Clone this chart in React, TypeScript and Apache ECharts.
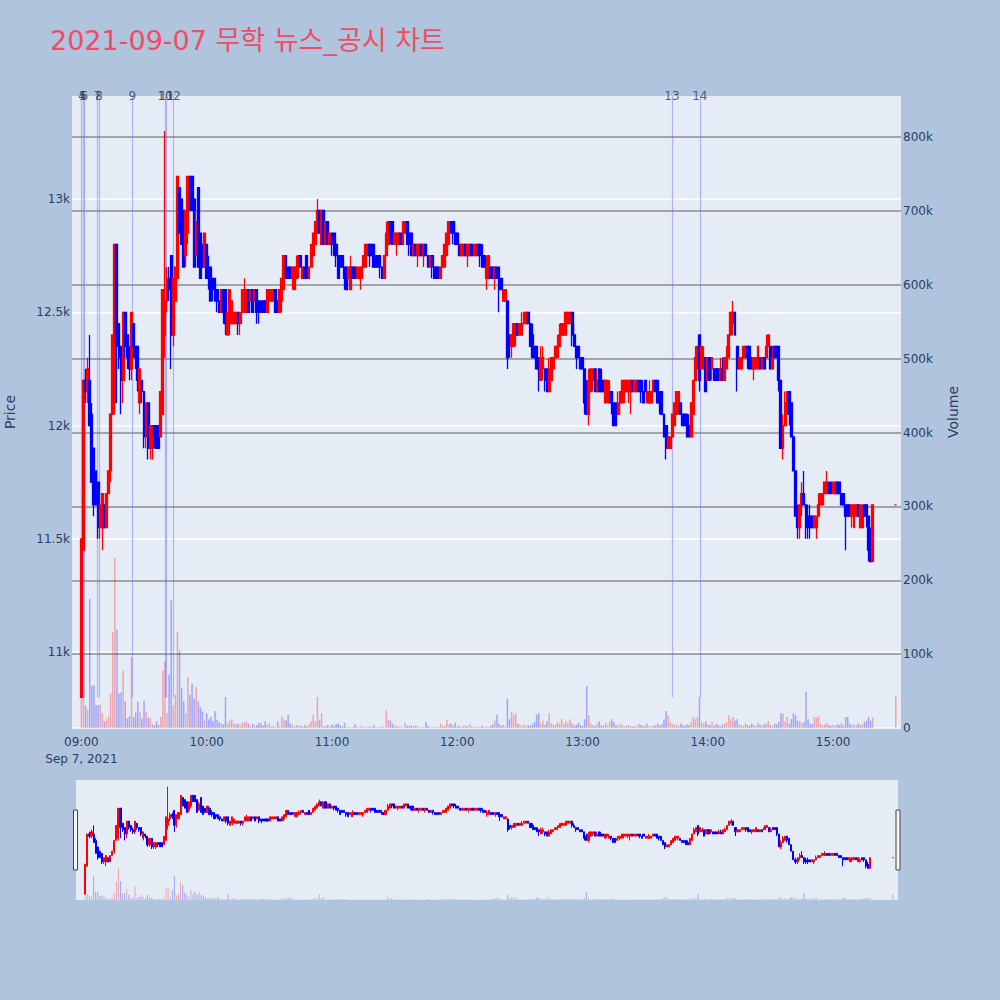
import React, { useEffect, useRef } from 'react';
import * as echarts from 'echarts';

const TITLE = '2021-09-07 무학 뉴스_공시 차트';
const DATE_LABEL = 'Sep 7, 2021';
const FIRST_MINUTE = '09:00';
const AXIS_START_MIN = 8 * 60 + 56; // first category 08:56
const AXIS_END_MIN = 15 * 60 + 32; // last category 15:32
const PRICE_MIN = 10665;
const PRICE_MAX = 13455;
const VOL_MAX = 855.5; // thousands
const NEWS_LOW = 10800;

// [open, close, low, high] per minute
const h09 = [
  [10800, 11500, 10800, 11500], [11450, 12200, 11450, 12200], [12200, 12150, 12100, 12250], [12150, 12250, 12100, 12300], [12200, 12000, 12000, 12400],
  [12050, 11750, 11750, 12100], [11900, 11650, 11600, 11900], [11800, 11650, 11650, 11800], [11750, 11550, 11500, 11750], [11550, 11650, 11500, 11650],
  [11550, 11700, 11450, 11700], [11650, 11550, 11550, 11650], [11550, 11700, 11550, 11700], [11700, 11800, 11700, 11800], [11800, 12050, 11750, 12050],
  [12050, 12400, 12050, 12400], [12100, 12800, 12050, 12800], [12800, 12350, 12100, 12800], [12450, 12300, 12250, 12450], [12350, 12200, 12050, 12350],
  [12200, 12500, 12100, 12500], [12500, 12350, 12300, 12500], [12400, 12300, 12250, 12400], [12300, 12250, 12200, 12350], [12250, 12500, 12200, 12500],
  [12450, 12350, 12300, 12450], [12350, 12300, 12250, 12350], [12350, 12200, 12150, 12350], [12100, 12250, 12050, 12250], [12200, 12150, 12100, 12200],
  [12150, 11950, 11900, 12150], [11950, 12100, 11900, 12100], [12100, 11900, 11850, 12100], [11900, 12000, 11850, 12000], [11900, 12000, 11850, 12000],
  [12000, 11950, 11900, 12000], [12000, 11900, 11900, 12000], [12000, 11900, 11900, 12000], [11950, 12150, 11950, 12150], [12050, 12600, 12050, 12600],
  [12400, 12550, 12300, 13300], [12550, 12650, 12500, 12700], [12650, 12600, 12550, 12700], [12750, 12400, 12250, 12750], [12400, 12650, 12350, 12650],
  [12550, 12700, 12550, 12700], [12650, 13100, 12650, 13100], [13050, 12850, 12850, 13050], [13000, 12800, 12800, 13000], [12950, 12700, 12700, 12950],
  [12750, 12950, 12700, 12950], [12850, 13100, 12800, 13100], [13100, 12950, 12950, 13100], [13100, 12950, 12950, 13100], [13000, 12700, 12700, 13000],
  [12750, 12900, 12750, 12950], [13050, 12700, 12700, 13050], [12850, 12650, 12650, 12850], [12800, 12700, 12700, 12800], [12700, 12850, 12700, 12850],
];
const h10 = [
  [12800, 12650, 12650, 12800], [12700, 12650, 12600, 12750], [12700, 12550, 12550, 12700], [12650, 12600, 12550, 12650], [12650, 12550, 12550, 12650],
  [12600, 12550, 12500, 12600], [12550, 12500, 12500, 12550], [12500, 12600, 12500, 12600], [12600, 12500, 12450, 12600], [12600, 12450, 12400, 12600],
  [12400, 12500, 12400, 12500], [12450, 12600, 12400, 12600], [12450, 12550, 12450, 12550], [12450, 12500, 12450, 12500], [12450, 12500, 12450, 12500],
  [12500, 12450, 12400, 12500], [12450, 12500, 12400, 12500], [12500, 12600, 12500, 12600], [12500, 12600, 12500, 12650], [12500, 12600, 12500, 12600],
  [12600, 12500, 12500, 12600], [12550, 12600, 12550, 12600], [12600, 12500, 12500, 12600], [12550, 12600, 12550, 12600], [12600, 12500, 12450, 12600],
  [12550, 12500, 12450, 12550], [12550, 12500, 12500, 12550], [12550, 12500, 12500, 12550], [12550, 12500, 12500, 12550], [12500, 12600, 12500, 12600],
  [12550, 12600, 12550, 12600], [12550, 12600, 12550, 12600], [12550, 12600, 12550, 12600], [12600, 12500, 12500, 12600], [12550, 12500, 12500, 12550],
  [12500, 12600, 12500, 12600], [12550, 12650, 12500, 12650], [12600, 12750, 12600, 12750], [12750, 12650, 12650, 12750], [12700, 12650, 12650, 12700],
  [12700, 12650, 12650, 12700], [12650, 12700, 12600, 12700], [12600, 12700, 12600, 12700], [12650, 12700, 12650, 12750], [12700, 12750, 12650, 12750],
  [12750, 12700, 12700, 12750], [12650, 12700, 12650, 12700], [12700, 12650, 12650, 12700], [12750, 12650, 12650, 12750], [12650, 12700, 12650, 12700],
  [12700, 12800, 12700, 12800], [12750, 12850, 12750, 12850], [12800, 12900, 12800, 12900], [12850, 12950, 12850, 13000], [12950, 12850, 12850, 12950],
  [12800, 12950, 12800, 12950], [12950, 12800, 12800, 12950], [12800, 12900, 12800, 12900], [12900, 12800, 12800, 12900], [12800, 12850, 12800, 12850],
];
const h11 = [
  [12850, 12800, 12750, 12850], [12850, 12750, 12750, 12850], [12800, 12750, 12700, 12800], [12750, 12650, 12650, 12750], [12750, 12700, 12700, 12750],
  [12750, 12700, 12700, 12750], [12700, 12650, 12600, 12700], [12700, 12600, 12600, 12700], [12650, 12700, 12650, 12700], [12600, 12700, 12600, 12750],
  [12700, 12650, 12650, 12700], [12700, 12650, 12650, 12700], [12650, 12700, 12650, 12700], [12650, 12700, 12650, 12700], [12650, 12700, 12600, 12700],
  [12700, 12750, 12700, 12750], [12700, 12800, 12700, 12800], [12750, 12800, 12750, 12800], [12800, 12750, 12700, 12800], [12800, 12750, 12750, 12800],
  [12800, 12700, 12700, 12800], [12750, 12700, 12700, 12750], [12750, 12700, 12700, 12750], [12750, 12700, 12650, 12750], [12700, 12650, 12650, 12700],
  [12650, 12750, 12650, 12750], [12750, 12850, 12750, 12900], [12800, 12900, 12800, 12900], [12900, 12850, 12800, 12900], [12900, 12800, 12800, 12900],
  [12800, 12850, 12800, 12850], [12800, 12850, 12750, 12850], [12800, 12850, 12800, 12850], [12850, 12800, 12800, 12850], [12800, 12900, 12800, 12900],
  [12850, 12900, 12850, 12900], [12900, 12800, 12800, 12900], [12850, 12800, 12750, 12850], [12850, 12750, 12750, 12850], [12750, 12800, 12750, 12800],
  [12800, 12750, 12750, 12800], [12750, 12800, 12700, 12800], [12750, 12800, 12750, 12800], [12800, 12750, 12750, 12800], [12750, 12800, 12700, 12800],
  [12800, 12750, 12750, 12800], [12750, 12700, 12700, 12750], [12700, 12750, 12700, 12750], [12750, 12700, 12650, 12750], [12700, 12650, 12650, 12700],
  [12700, 12650, 12650, 12700], [12700, 12650, 12650, 12700], [12650, 12700, 12650, 12700], [12700, 12750, 12700, 12750], [12700, 12800, 12700, 12800],
  [12750, 12850, 12750, 12850], [12800, 12900, 12800, 12900], [12900, 12850, 12850, 12900], [12900, 12850, 12800, 12900], [12850, 12800, 12800, 12900],
];
const h12 = [
  [12850, 12800, 12800, 12850], [12800, 12750, 12750, 12800], [12750, 12800, 12750, 12800], [12750, 12800, 12750, 12800], [12800, 12750, 12750, 12800],
  [12750, 12800, 12700, 12800], [12750, 12800, 12750, 12800], [12800, 12750, 12750, 12800], [12750, 12800, 12750, 12800], [12750, 12800, 12750, 12800],
  [12800, 12750, 12750, 12800], [12800, 12750, 12700, 12800], [12750, 12700, 12700, 12800], [12750, 12700, 12700, 12750], [12650, 12700, 12600, 12750],
  [12650, 12750, 12650, 12750], [12700, 12650, 12650, 12700], [12700, 12650, 12650, 12700], [12650, 12700, 12600, 12700], [12700, 12650, 12650, 12700],
  [12700, 12600, 12500, 12700], [12650, 12600, 12600, 12650], [12550, 12600, 12550, 12600], [12550, 12600, 12550, 12600], [12550, 12300, 12250, 12550],
  [12400, 12350, 12300, 12400], [12350, 12400, 12300, 12400], [12350, 12450, 12350, 12450], [12400, 12450, 12350, 12450], [12450, 12400, 12400, 12450],
  [12400, 12450, 12400, 12450], [12400, 12450, 12400, 12500], [12450, 12500, 12450, 12500], [12450, 12500, 12450, 12500], [12500, 12450, 12450, 12500],
  [12450, 12350, 12350, 12450], [12400, 12300, 12300, 12450], [12350, 12300, 12300, 12350], [12350, 12250, 12250, 12350], [12300, 12250, 12150, 12300],
  [12200, 12300, 12200, 12350], [12250, 12300, 12200, 12350], [12250, 12200, 12150, 12250], [12250, 12150, 12150, 12250], [12150, 12250, 12150, 12300],
  [12200, 12300, 12200, 12300], [12250, 12300, 12250, 12300], [12300, 12350, 12300, 12350], [12300, 12350, 12300, 12400], [12350, 12400, 12350, 12450],
  [12400, 12450, 12400, 12450], [12400, 12450, 12400, 12450], [12400, 12500, 12400, 12500], [12450, 12500, 12450, 12500], [12450, 12500, 12450, 12500],
  [12500, 12400, 12350, 12500], [12400, 12350, 12350, 12450], [12350, 12300, 12250, 12350], [12350, 12300, 12300, 12350], [12300, 12250, 12250, 12300],
];
const h13 = [
  [12300, 12250, 12250, 12300], [12250, 12100, 12050, 12250], [12150, 12050, 12050, 12200], [12050, 12200, 12000, 12250], [12150, 12250, 12150, 12250],
  [12200, 12250, 12150, 12250], [12250, 12150, 12150, 12250], [12150, 12200, 12150, 12250], [12250, 12150, 12150, 12250], [12200, 12150, 12150, 12250],
  [12200, 12150, 12150, 12200], [12100, 12200, 12100, 12200], [12150, 12200, 12100, 12200], [12100, 12150, 12100, 12200], [12150, 12100, 12050, 12150],
  [12100, 12000, 12000, 12100], [12100, 12000, 12000, 12100], [12050, 12100, 12050, 12150], [12100, 12150, 12050, 12150], [12100, 12200, 12100, 12200],
  [12150, 12200, 12100, 12200], [12150, 12200, 12150, 12200], [12150, 12200, 12100, 12200], [12150, 12200, 12050, 12200], [12200, 12150, 12150, 12200],
  [12150, 12200, 12150, 12200], [12150, 12200, 12150, 12200], [12200, 12150, 12150, 12200], [12200, 12150, 12100, 12200], [12150, 12100, 12100, 12200],
  [12200, 12150, 12150, 12200], [12100, 12150, 12100, 12150], [12100, 12150, 12100, 12200], [12100, 12150, 12100, 12150], [12150, 12200, 12150, 12200],
  [12200, 12150, 12150, 12200], [12200, 12100, 12100, 12200], [12150, 12100, 12050, 12150], [12150, 12050, 12050, 12150], [12050, 11950, 11950, 12050],
  [12000, 11900, 11850, 12000], [11900, 11950, 11900, 11950], [11900, 11950, 11900, 11950], [11950, 12050, 11950, 12050], [12000, 12100, 12000, 12100],
  [12050, 12150, 12050, 12150], [12100, 12150, 12050, 12150], [12100, 12050, 12050, 12100], [12050, 12000, 12000, 12050], [12050, 12000, 12000, 12050],
  [12050, 11950, 11950, 12050], [12000, 11950, 11950, 12050], [11950, 12100, 11950, 12100], [12050, 12200, 12050, 12200], [12200, 12300, 12200, 12350],
  [12250, 12350, 12250, 12350], [12400, 12200, 12150, 12400], [12250, 12350, 12250, 12350], [12250, 12300, 12250, 12350], [12300, 12150, 12150, 12300],
];
const h14 = [
  [12200, 12300, 12200, 12300], [12300, 12200, 12200, 12300], [12250, 12300, 12200, 12300], [12250, 12200, 12200, 12250], [12250, 12200, 12200, 12250],
  [12250, 12200, 12200, 12250], [12200, 12250, 12200, 12300], [12250, 12200, 12200, 12300], [12200, 12300, 12200, 12300], [12250, 12300, 12250, 12350],
  [12300, 12400, 12300, 12400], [12400, 12500, 12400, 12500], [12450, 12500, 12400, 12550], [12500, 12400, 12400, 12500], [12350, 12250, 12150, 12350],
  [12250, 12300, 12250, 12300], [12250, 12300, 12250, 12300], [12300, 12350, 12300, 12350], [12300, 12350, 12300, 12350], [12350, 12300, 12250, 12350],
  [12350, 12250, 12250, 12350], [12300, 12250, 12250, 12300], [12250, 12300, 12200, 12300], [12250, 12300, 12250, 12300], [12250, 12350, 12250, 12350],
  [12300, 12250, 12250, 12300], [12250, 12300, 12250, 12300], [12300, 12250, 12250, 12300], [12300, 12350, 12300, 12400], [12350, 12400, 12350, 12400],
  [12350, 12250, 12250, 12350], [12250, 12300, 12250, 12350], [12350, 12300, 12300, 12350], [12350, 12300, 12300, 12350], [12350, 12200, 12150, 12350],
  [12200, 11900, 11900, 12200], [11900, 12000, 11850, 12050], [12000, 12100, 12000, 12150], [12050, 12150, 12050, 12150], [12150, 12050, 12000, 12150],
  [12100, 11950, 11950, 12100], [11950, 11800, 11800, 11950], [11800, 11600, 11600, 11800], [11600, 11550, 11500, 11650], [11550, 11650, 11500, 11650],
  [11650, 11700, 11600, 11750], [11700, 11650, 11650, 11800], [11650, 11550, 11500, 11650], [11600, 11550, 11500, 11650], [11600, 11550, 11500, 11650],
  [11600, 11550, 11550, 11600], [11550, 11600, 11550, 11600], [11550, 11600, 11500, 11600], [11600, 11650, 11600, 11700], [11650, 11700, 11650, 11700],
  [11650, 11700, 11650, 11700], [11700, 11750, 11700, 11750], [11700, 11750, 11700, 11800], [11750, 11700, 11700, 11750], [11750, 11700, 11700, 11750],
];
const h15 = [
  [11700, 11750, 11700, 11750], [11700, 11750, 11700, 11750], [11750, 11700, 11700, 11750], [11750, 11700, 11700, 11750], [11700, 11650, 11650, 11700],
  [11700, 11650, 11650, 11700], [11650, 11600, 11450, 11650], [11650, 11600, 11600, 11650], [11650, 11600, 11600, 11650], [11600, 11650, 11550, 11650],
  [11550, 11650, 11550, 11650], [11600, 11650, 11600, 11650], [11650, 11600, 11600, 11650], [11550, 11650, 11550, 11650], [11550, 11600, 11550, 11650],
  [11650, 11600, 11600, 11650], [11650, 11600, 11550, 11650], [11600, 11450, 11400, 11600], [11500, 11400, 11400, 11550], [11400, 11650, 11400, 11650],
];
const closeTime = '15:30';
const closeCandle = [11650, 11650, 11650, 11650];

// volume per minute, thousands of shares
const v09 = [45, 42, 30, 25, 175, 57, 58, 31, 31, 32, 20, 9, 12, 16, 47, 130, 230, 133, 47, 48, 78, 36, 13, 16, 96, 15, 21, 36, 22, 13, 37, 22, 14, 14, 6, 4, 9, 4, 15, 78, 90, 20, 72, 173, 31, 45, 130, 105, 54, 36, 20, 69, 45, 60, 40, 55, 36, 28, 22, 10];
const v10 = [20, 12, 15, 9, 23, 11, 8, 6, 5, 42, 6, 10, 12, 6, 5, 6, 3, 7, 7, 9, 6, 3, 6, 3, 4, 7, 6, 3, 9, 4, 6, 2, 3, 1, 9, 2, 16, 12, 10, 18, 6, 4, 2, 4, 3, 3, 2, 4, 2, 5, 9, 18, 9, 42, 11, 20, 2, 3, 4, 2];
const v11 = [5, 3, 5, 6, 4, 2, 7, 1, 2, 1, 1, 5, 2, 1, 3, 1, 2, 1, 2, 1, 4, 1, 1, 1, 2, 1, 24, 11, 10, 6, 3, 3, 2, 1, 1, 7, 3, 3, 3, 3, 3, 3, 1, 1, 1, 8, 3, 1, 1, 1, 1, 1, 6, 3, 3, 11, 5, 6, 3, 7];
const v12 = [2, 3, 1, 3, 3, 3, 5, 2, 1, 2, 1, 1, 3, 1, 2, 1, 3, 5, 10, 18, 6, 3, 4, 2, 40, 12, 22, 18, 20, 6, 4, 3, 5, 2, 4, 3, 5, 8, 18, 20, 6, 10, 4, 9, 20, 6, 5, 4, 8, 6, 12, 5, 9, 6, 11, 6, 3, 4, 7, 4];
const v13 = [3, 12, 57, 17, 6, 4, 3, 6, 9, 4, 3, 7, 4, 9, 12, 8, 4, 3, 5, 4, 2, 3, 4, 3, 2, 3, 2, 5, 4, 2, 3, 6, 3, 2, 4, 3, 6, 3, 5, 12, 23, 17, 8, 6, 4, 5, 3, 6, 4, 3, 5, 4, 8, 15, 12, 15, 42, 8, 6, 9];
const v14 = [5, 4, 8, 3, 5, 4, 3, 5, 6, 8, 17, 12, 15, 10, 12, 5, 4, 3, 6, 4, 3, 6, 4, 3, 7, 4, 3, 5, 6, 9, 4, 3, 6, 5, 8, 20, 20, 8, 15, 6, 12, 20, 17, 10, 9, 6, 8, 49, 12, 6, 5, 15, 14, 16, 6, 4, 5, 7, 4, 3];
const v15 = [4, 3, 5, 4, 6, 3, 15, 15, 6, 4, 5, 3, 6, 4, 5, 8, 10, 15, 10, 14];
const closeVol = 43;

// news / disclosure markers
const newsIds = ['4', '5', '6', '7', '8', '9', '10', '11', '12', '13', '14'];
const newsTimes = ['09:00:10', '09:00:40', '09:01:25', '09:07:40', '09:08:25', '09:24:25', '09:40:00', '09:40:50', '09:44:00', '13:42:50', '13:56:10'];

const AXIS_COLOR = '#2a3f5f';
const FONT = "'DejaVu Sans', Verdana, sans-serif";
const TITLE_FONT = "'DejaVu Sans', 'Noto Sans CJK KR', sans-serif";

const pad = (n: number) => (n < 10 ? '0' + n : '' + n);

function buildOption() {
  const categories: string[] = [];
  for (let t = AXIS_START_MIN; t <= AXIS_END_MIN; t++) categories.push(pad(Math.floor(t / 60)) + ':' + pad(t % 60));

  const hours: [string, number[][], number[]][] = [
    ['09', h09, v09], ['10', h10, v10], ['11', h11, v11], ['12', h12, v12], ['13', h13, v13], ['14', h14, v14], ['15', h15, v15],
  ];
  const rows: { t: string; c: number[]; v: number }[] = [];
  hours.forEach(([hh, cs, vs]) => cs.forEach((c, j) => rows.push({ t: hh + ':' + pad(j), c, v: vs[j] })));
  rows.push({ t: closeTime, c: closeCandle, v: closeVol });

  const candleData = rows.map((r) => [r.t, r.c[0], r.c[1], r.c[2], r.c[3]]);
  let prevClose = rows[0].c[0];
  const volData = rows.map((r) => {
    const up = r.c[1] > r.c[0] || (r.c[1] === r.c[0] && r.c[1] >= prevClose);
    prevClose = r.c[1];
    return { value: [r.t, r.v], itemStyle: { color: up ? 'rgba(255,0,0,0.3)' : 'rgba(0,0,255,0.3)' } };
  });

  const origin = 9 * 60;
  const xValMin = AXIS_START_MIN - origin - 0.5;
  const xValMax = AXIS_END_MIN - origin + 0.5;
  const newsMinutes = newsTimes.map((s) => {
    const [h, m, sec] = s.split(':').map(Number);
    return h * 60 + m + sec / 60 - origin;
  });

  const labelStyle = { color: AXIS_COLOR, fontSize: 12, fontFamily: FONT };
  const candleStyle = {
    color: '#ff0000', color0: '#0000ff', borderColor: '#ff0000', borderColor0: '#0000ff', borderColorDoji: '#ff0000',
  };

  return {
    animation: false,
    backgroundColor: '#b0c4de',
    title: {
      text: TITLE,
      left: 50,
      top: 27,
      padding: 0,
      textStyle: { color: '#ee4d63', fontSize: 27, fontWeight: 'normal', fontFamily: TITLE_FONT },
    },
    grid: [
      { left: 72, top: 96, width: 829, height: 632, show: true, backgroundColor: '#e5ecf6', borderWidth: 0, containLabel: false, outerBoundsMode: 'none' },
      { left: 76, top: 780, width: 822, height: 120, show: true, backgroundColor: '#e5ecf6', borderWidth: 0, containLabel: false, outerBoundsMode: 'none' },
    ],
    xAxis: [
      {
        type: 'category', gridIndex: 0, data: categories, boundaryGap: true,
        axisLine: { show: false }, axisTick: { show: false }, splitLine: { show: false },
        axisLabel: {
          ...labelStyle,
          interval: (_i: number, v: string) => v.endsWith(':00'),
          formatter: (v: string) => (v === FIRST_MINUTE ? v + '\n' + DATE_LABEL : v),
          margin: 5, lineHeight: 17,
        },
      },
      { type: 'category', gridIndex: 1, data: categories, boundaryGap: true, show: false },
      { type: 'value', gridIndex: 0, min: xValMin, max: xValMax, show: false, splitLine: { show: false } },
    ],
    yAxis: [
      {
        type: 'value', gridIndex: 0, position: 'left', min: PRICE_MIN, max: PRICE_MAX, splitNumber: 5,
        name: 'Price', nameLocation: 'middle', nameGap: 55,
        nameTextStyle: { color: AXIS_COLOR, fontSize: 14, fontFamily: FONT },
        axisLine: { show: false }, axisTick: { show: false },
        axisLabel: { ...labelStyle, margin: 2, formatter: (v: number) => (v % 500 === 0 ? v / 1000 + 'k' : '') },
        splitLine: { show: true, showMaxLine: false, lineStyle: { color: '#ffffff', width: 1.5 } },
      },
      {
        type: 'value', gridIndex: 0, position: 'right', min: 0, max: VOL_MAX, interval: 100,
        name: 'Volume', nameLocation: 'middle', nameGap: 45,
        nameTextStyle: { color: AXIS_COLOR, fontSize: 14, fontFamily: FONT },
        axisLine: { show: false }, axisTick: { show: false },
        axisLabel: { ...labelStyle, margin: 2, formatter: (v: number) => (v % 100 === 0 ? (v === 0 ? '0' : v + 'k') : '') },
        splitLine: { show: true, showMinLine: false, showMaxLine: false, lineStyle: { color: '#8c8c8c', width: 1.5 } },
      },
      { type: 'value', gridIndex: 1, min: PRICE_MIN, max: PRICE_MAX, show: false, splitLine: { show: false } },
      { type: 'value', gridIndex: 1, min: 0, max: VOL_MAX, show: false, splitLine: { show: false } },
    ],
    series: [
      {
        type: 'bar', xAxisIndex: 0, yAxisIndex: 1, data: volData, barWidth: 1.5, silent: true,
        encode: { x: 0, y: 1 },
      },
      {
        type: 'candlestick', xAxisIndex: 0, yAxisIndex: 0, data: candleData, barWidth: 2.4, silent: true,
        encode: { x: 0, y: [1, 2, 3, 4] },
        itemStyle: { ...candleStyle, borderWidth: 1.3 },
      },
      {
        type: 'lines', coordinateSystem: 'cartesian2d', xAxisIndex: 2, yAxisIndex: 0, silent: true,
        lineStyle: { color: 'rgba(99,110,250,0.45)', width: 1.2, opacity: 1 },
        data: newsMinutes.map((m) => ({ coords: [[m, NEWS_LOW], [m, PRICE_MAX]] })),
      },
      {
        type: 'scatter', xAxisIndex: 2, yAxisIndex: 0, symbolSize: 0, silent: true, clip: false,
        data: newsMinutes.map((m, i) => [m, PRICE_MAX, newsIds[i]]),
        label: {
          show: true, position: 'inside', color: AXIS_COLOR, fontSize: 12, fontFamily: FONT,
          formatter: (p: any) => p.value[2],
        },
      },
      {
        type: 'bar', xAxisIndex: 1, yAxisIndex: 3, data: volData, barWidth: 1, silent: true,
        encode: { x: 0, y: 1 },
      },
      {
        type: 'candlestick', xAxisIndex: 1, yAxisIndex: 2, data: candleData, barWidth: 1.6, silent: true,
        encode: { x: 0, y: [1, 2, 3, 4] },
        itemStyle: { ...candleStyle, borderWidth: 1 },
      },
    ],
    graphic: [
      { type: 'rect', shape: { x: 73.5, y: 810, width: 4, height: 60 }, style: { fill: '#f4f4f4', stroke: '#444', lineWidth: 1 } },
      { type: 'rect', shape: { x: 896, y: 810, width: 4, height: 60 }, style: { fill: '#f4f4f4', stroke: '#444', lineWidth: 1 } },
    ],
  };
}

export default function App() {
  const ref = useRef<HTMLDivElement>(null);
  useEffect(() => {
    if (!ref.current) return;
    const chart = echarts.init(ref.current, undefined, { renderer: 'svg' });
    chart.setOption(buildOption() as any);
    return () => chart.dispose();
  }, []);
  return <div ref={ref} style={{ position: 'fixed', left: 0, top: 0, width: 1000, height: 1000 }} />;
}
